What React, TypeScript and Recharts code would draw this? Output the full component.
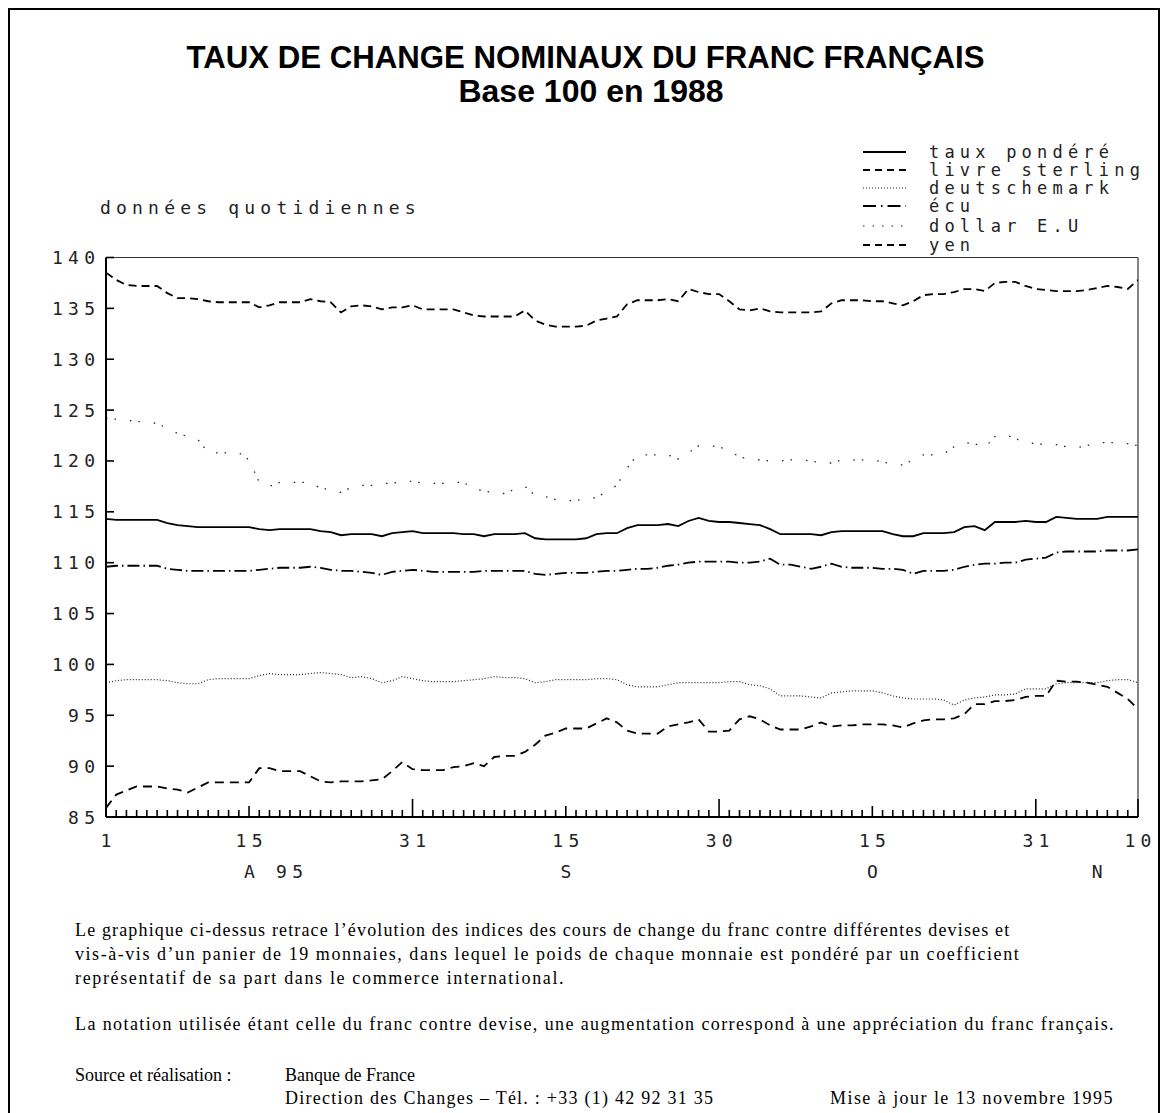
import React from 'react';
import { LineChart, Line, XAxis, YAxis, ReferenceLine } from 'recharts';

// Day index 0 = 1 Aug 1995 ... 101 = 10 Nov 1995 (calendar days)
const tauxPondere = [114.3, 114.2, 114.2, 114.2, 114.2, 114.2, 113.9, 113.7, 113.6, 113.5,
  113.5, 113.5, 113.5, 113.5, 113.5, 113.3, 113.2, 113.3, 113.3, 113.3,
  113.3, 113.1, 113.0, 112.7, 112.8, 112.8, 112.8, 112.6, 112.9, 113.0,
  113.1, 112.9, 112.9, 112.9, 112.9, 112.8, 112.8, 112.6, 112.8, 112.8,
  112.8, 112.9, 112.4, 112.3, 112.3, 112.3, 112.3, 112.4, 112.8, 112.9,
  112.9, 113.4, 113.7, 113.7, 113.7, 113.8, 113.6, 114.1, 114.4, 114.1,
  114.0, 114.0, 113.9, 113.8, 113.7, 113.3, 112.8, 112.8, 112.8, 112.8,
  112.7, 113.0, 113.1, 113.1, 113.1, 113.1, 113.1, 112.8, 112.6, 112.6,
  112.9, 112.9, 112.9, 113.0, 113.5, 113.6, 113.2, 114.0, 114.0, 114.0,
  114.1, 114.0, 114.0, 114.5, 114.4, 114.3, 114.3, 114.3, 114.5, 114.5,
  114.5, 114.5];

const livreSterling = [138.5, 137.8, 137.3, 137.2, 137.2, 137.2, 136.5, 136.0, 136.0, 135.9,
  135.7, 135.6, 135.6, 135.6, 135.6, 135.1, 135.3, 135.6, 135.6, 135.6,
  135.9, 135.7, 135.6, 134.6, 135.2, 135.3, 135.2, 134.9, 135.1, 135.1,
  135.3, 134.9, 134.9, 134.9, 134.9, 134.6, 134.3, 134.2, 134.2, 134.2,
  134.2, 134.8, 133.8, 133.4, 133.2, 133.2, 133.2, 133.3, 133.8, 134.0,
  134.2, 135.4, 135.8, 135.8, 135.8, 135.9, 135.7, 136.9, 136.6, 136.4,
  136.4, 135.7, 134.9, 134.8, 135.0, 134.7, 134.6, 134.6, 134.6, 134.6,
  134.7, 135.5, 135.8, 135.8, 135.8, 135.7, 135.7, 135.5, 135.3, 135.7,
  136.3, 136.4, 136.4, 136.6, 136.9, 136.9, 136.7, 137.5, 137.6, 137.6,
  137.2, 136.9, 136.8, 136.7, 136.7, 136.7, 136.8, 137.0, 137.2, 137.1,
  136.9, 137.8];

const deutschemark = [98.2, 98.4, 98.5, 98.5, 98.5, 98.5, 98.4, 98.2, 98.1, 98.1,
  98.5, 98.6, 98.6, 98.6, 98.6, 98.9, 99.1, 99.0, 99.0, 99.0,
  99.1, 99.2, 99.1, 99.0, 98.7, 98.8, 98.6, 98.2, 98.4, 98.8,
  98.6, 98.4, 98.3, 98.3, 98.3, 98.4, 98.5, 98.6, 98.8, 98.7,
  98.7, 98.6, 98.2, 98.3, 98.5, 98.5, 98.5, 98.5, 98.6, 98.6,
  98.5, 98.0, 97.8, 97.8, 97.8, 98.0, 98.2, 98.2, 98.2, 98.2,
  98.2, 98.3, 98.3, 98.0, 97.9, 97.6, 96.9, 96.9, 96.9, 96.8,
  96.7, 97.2, 97.3, 97.4, 97.4, 97.4, 97.2, 96.9, 96.7, 96.6,
  96.6, 96.6, 96.5, 96.0, 96.5, 96.7, 96.8, 97.0, 97.0, 97.1,
  97.6, 97.6, 97.6, 98.1, 98.2, 98.2, 98.2, 98.2, 98.4, 98.5,
  98.5, 98.2];

const ecu = [109.6, 109.7, 109.7, 109.7, 109.7, 109.7, 109.4, 109.3, 109.2, 109.2,
  109.2, 109.2, 109.2, 109.2, 109.2, 109.3, 109.4, 109.5, 109.5, 109.5,
  109.6, 109.5, 109.3, 109.2, 109.2, 109.1, 109.0, 108.8, 109.1, 109.2,
  109.3, 109.2, 109.1, 109.1, 109.1, 109.1, 109.1, 109.2, 109.2, 109.2,
  109.2, 109.2, 108.9, 108.8, 108.9, 109.0, 109.0, 109.0, 109.1, 109.2,
  109.2, 109.3, 109.4, 109.4, 109.5, 109.7, 109.8, 110.0, 110.1, 110.1,
  110.1, 110.1, 110.0, 110.0, 110.1, 110.4, 109.8, 109.8, 109.6, 109.4,
  109.6, 109.9, 109.6, 109.5, 109.5, 109.5, 109.4, 109.4, 109.3, 108.9,
  109.2, 109.2, 109.2, 109.3, 109.6, 109.8, 109.9, 109.9, 110.0, 110.0,
  110.3, 110.4, 110.5, 111.0, 111.1, 111.1, 111.1, 111.1, 111.2, 111.2,
  111.2, 111.3];

const dollarEU = [124.2, 124.1, 124.0, 123.9, 123.8, 123.7, 123.2, 122.7, 122.4, 122.1,
  120.8, 120.8, 120.8, 120.8, 120.1, 117.9, 117.5, 117.9, 117.9, 117.9,
  117.9, 117.3, 117.2, 116.9, 117.4, 117.6, 117.6, 117.8, 117.8, 118.0,
  118.0, 117.8, 117.8, 117.8, 117.9, 117.9, 117.2, 117.1, 116.8, 116.8,
  117.2, 117.5, 116.6, 116.5, 116.2, 116.1, 116.1, 116.3, 116.4, 117.0,
  117.6, 119.3, 120.6, 120.6, 120.6, 120.6, 120.2, 120.8, 121.5, 121.5,
  121.4, 121.0, 120.4, 120.2, 120.1, 120.0, 120.0, 120.1, 120.1, 120.0,
  119.8, 119.8, 120.1, 120.1, 120.1, 120.1, 119.9, 119.7, 119.6, 120.1,
  120.6, 120.6, 120.7, 121.4, 121.8, 121.7, 121.3, 122.4, 122.6, 122.2,
  121.8, 121.7, 121.6, 121.6, 121.4, 121.3, 121.5, 121.8, 121.8, 121.8,
  121.7, 121.5];

const yen = [85.9, 87.2, 87.6, 88.0, 88.0, 88.0, 87.8, 87.7, 87.4, 87.9,
  88.4, 88.4, 88.4, 88.4, 88.4, 89.8, 89.8, 89.5, 89.5, 89.5,
  89.0, 88.5, 88.4, 88.5, 88.5, 88.5, 88.6, 88.7, 89.5, 90.4,
  89.7, 89.6, 89.6, 89.6, 89.9, 90.0, 90.3, 90.0, 90.9, 91.0,
  91.0, 91.4, 92.1, 93.0, 93.3, 93.7, 93.7, 93.7, 94.2, 94.7,
  94.3, 93.5, 93.2, 93.2, 93.2, 93.9, 94.1, 94.3, 94.6, 93.4,
  93.4, 93.5, 94.6, 94.9, 94.6, 94.0, 93.6, 93.6, 93.6, 93.9,
  94.3, 93.9, 94.0, 94.0, 94.1, 94.1, 94.1, 94.0, 93.8, 94.2,
  94.5, 94.6, 94.6, 94.7, 95.1, 96.1, 96.1, 96.4, 96.4, 96.5,
  96.8, 96.9, 96.9, 98.4, 98.3, 98.3, 98.2, 98.0, 97.8, 97.2,
  96.6, 95.6];

const yTicks = [85, 90, 95, 100, 105, 110, 115, 120, 125, 130, 135, 140];
const dateTickDays = [0, 14, 30, 45, 60, 75, 91, 101];
const dateTickLabels = ['1', '15', '31', '15', '30', '15', '31', '10'];
const monthEndDays = [30, 60, 91, 101];
const monthDays = [14, 45, 75, 97];
const monthLabels = ['A 95', 'S', 'O', 'N'];

const seriesDefs = [
  { key: 'taux', name: 'taux pondéré', dash: undefined as string | undefined, width: 1.8, color: '#000' },
  { key: 'sterling', name: 'livre sterling', dash: '8 5', width: 1.8, color: '#000' },
  { key: 'dm', name: 'deutschemark', dash: '1 2', width: 1.2, color: '#222' },
  { key: 'ecu', name: 'écu', dash: '12 4 1.5 4', width: 1.8, color: '#000' },
  { key: 'dollar', name: 'dollar E.U', dash: '1.5 7 1.5 14', width: 1.3, color: '#222' },
  { key: 'yen', name: 'yen', dash: '9 6', width: 1.8, color: '#000' },
];

const data = tauxPondere.map((v, i) => ({
  i,
  taux: v,
  sterling: livreSterling[i],
  dm: deutschemark[i],
  ecu: ecu[i],
  dollar: dollarEU[i],
  yen: yen[i],
}));
const allDays = data.map((d) => d.i);

const MONO = '"DejaVu Sans Mono", monospace';
const FS = 18;
const LS = 5.2;
const AXIS_TEXT = '#222';

const XTick = (props: any) => {
  const { x, y, payload } = props;
  const d = payload.value;
  let len = 7;
  if (monthEndDays.includes(d)) len = 18;
  else if (d === 14 || d === 45 || d === 75) len = 11;
  const li = dateTickDays.indexOf(d);
  const mi = monthDays.indexOf(d);
  return (
    <g>
      {d !== 0 && <path d={`M${x},${y}L${x},${y - len}`} stroke="#000" strokeWidth={1.6} fill="none" />}
      {li >= 0 && (
        <text x={x + LS / 2} y={y + 30} textAnchor="middle" fontFamily={MONO} fontSize={FS}
          letterSpacing={LS} fill={AXIS_TEXT}>{dateTickLabels[li]}</text>
      )}
      {mi >= 0 && (
        <text x={mi === 0 ? x - 5 : x + LS / 2} y={y + 61} textAnchor={mi === 0 ? 'start' : 'middle'}
          fontFamily={MONO} fontSize={FS} letterSpacing={LS} fill={AXIS_TEXT} xmlSpace="preserve">{monthLabels[mi]}</text>
      )}
    </g>
  );
};

const YTick = (props: any) => {
  const { x, y, payload } = props;
  return (
    <g>
      <path d={`M${x},${y}L${x + 8},${y}`} stroke="#000" strokeWidth={1.6} fill="none" />
      <text x={x - 11 + LS} y={y + 6.5} textAnchor="end" fontFamily={MONO} fontSize={FS}
        letterSpacing={LS} fill={AXIS_TEXT}>{payload.value}</text>
    </g>
  );
};

const legendRows = [152, 170, 188, 206, 226, 245];
const LFS = 17;

const LegendBox = () => (
  <svg width={318} height={120} style={{ position: 'absolute', left: 850, top: 140 }}>
    {seriesDefs.map((s, k) => {
      const cy = legendRows[k] - 140;
      return (
        <g key={s.key}>
          <line x1={13} x2={56} y1={cy} y2={cy} stroke={s.color}
            strokeWidth={s.key === 'dm' || s.key === 'dollar' ? 1.2 : 1.8}
            strokeDasharray={s.key === 'ecu' ? '13 5 1.5 5' : s.key === 'dollar' ? '1.5 8' : s.key === 'dm' ? '1 2' : s.dash ? '7 5' : undefined} />
          <text x={79} y={cy + 6} fontFamily={MONO} fontSize={LFS} letterSpacing={5.2} fill={AXIS_TEXT}>{s.name}</text>
        </g>
      );
    })}
  </svg>
);

const serif = '"Liberation Serif", "Times New Roman", serif';
const txt = (extra: any) => ({ position: 'absolute' as const, fontFamily: serif, fontSize: 18, lineHeight: '24px', color: '#000', whiteSpace: 'nowrap' as const, ...extra });
const titleStyle = (extra: any) => ({ position: 'absolute' as const, left: 0, width: 1168, textAlign: 'center' as const, fontFamily: '"Liberation Sans", Arial, sans-serif', fontWeight: 'bold' as const, color: '#000', lineHeight: '26px', ...extra });

export default function App() {
  return (
    <div style={{ position: 'absolute', left: 0, top: 0, width: 1168, height: 1113, background: '#fff', overflow: 'hidden' }}>
      <div style={{ position: 'absolute', left: 8, top: 8, width: 1152, height: 1105, borderTop: '2px solid #000', borderLeft: '2px solid #000', borderRight: '2px solid #000', boxSizing: 'border-box' }} />
      <div style={titleStyle({ top: 45, fontSize: 31.2, paddingLeft: 3, boxSizing: 'border-box' })}>TAUX DE CHANGE NOMINAUX DU FRANC FRANÇAIS</div>
      <div style={titleStyle({ top: 78, fontSize: 32, paddingLeft: 14, boxSizing: 'border-box' })}>Base 100 en 1988</div>
      <svg width={420} height={30} style={{ position: 'absolute', left: 90, top: 192 }}>
        <text x={10} y={21.5} fontFamily={MONO} fontSize={FS} letterSpacing={LS} fill={AXIS_TEXT}>données quotidiennes</text>
      </svg>
      <LegendBox />
      <div style={{ position: 'absolute', left: 0, top: 0 }}>
        <LineChart width={1168} height={900} data={data}
          margin={{ top: 257.5, right: 30, bottom: 0, left: 0 }}>
          <XAxis dataKey="i" type="number" domain={[0, 101]} ticks={allDays} interval={0}
            height={83} tickSize={0} tickMargin={0} tickLine={false} tick={<XTick />}
            axisLine={{ stroke: '#000', strokeWidth: 2 }} allowDataOverflow />
          <YAxis type="number" domain={[85, 140]} ticks={yTicks} interval={0}
            width={106} tickSize={0} tickMargin={0} tickLine={false} tick={<YTick />}
            axisLine={{ stroke: '#000', strokeWidth: 2 }} allowDataOverflow />
          <ReferenceLine y={140} stroke="#333" strokeWidth={1.2} />
          <ReferenceLine x={101} stroke="#333" strokeWidth={1.2} />
          {seriesDefs.map((s) => (
            <Line key={s.key} dataKey={s.key} name={s.name} type="linear" stroke={s.color}
              strokeWidth={s.width} strokeDasharray={s.dash} dot={false} activeDot={false}
              isAnimationActive={false} />
          ))}
        </LineChart>
      </div>
      <div style={txt({ left: 75, top: 918 })}>
        <div style={{ letterSpacing: '1.15px' }}>Le graphique ci-dessus retrace l’évolution des indices des cours de change du franc contre différentes devises et</div>
        <div style={{ letterSpacing: '1.55px' }}>vis-à-vis d’un panier de 19 monnaies, dans lequel le poids de chaque monnaie est pondéré par un coefficient</div>
        <div style={{ letterSpacing: '1.65px' }}>représentatif de sa part dans le commerce international.</div>
      </div>
      <div style={txt({ left: 75, top: 1012, letterSpacing: '1.4px' })}>
        La notation utilisée étant celle du franc contre devise, une augmentation correspond à une appréciation du franc français.
      </div>
      <div style={txt({ left: 75, top: 1063 })}>Source et réalisation :</div>
      <div style={txt({ left: 285, top: 1063 })}>Banque de France</div>
      <div style={txt({ left: 285, top: 1086, letterSpacing: '1.25px' })}>Direction des Changes – Tél. : +33 (1) 42 92 31 35</div>
      <div style={txt({ left: 830, top: 1086, letterSpacing: '1.45px' })}>Mise à jour le 13 novembre 1995</div>
    </div>
  );
}
